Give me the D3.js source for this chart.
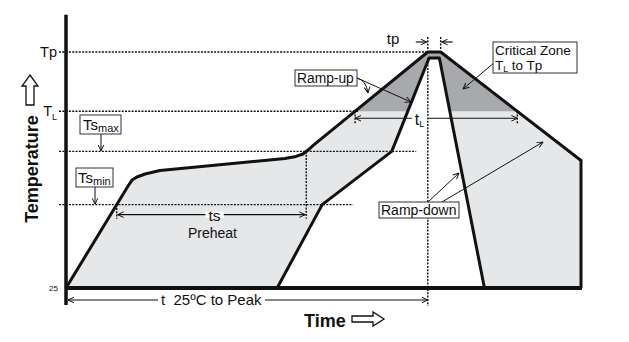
<!DOCTYPE html>
<html><head><meta charset="utf-8">
<script src="https://cdn.jsdelivr.net/npm/d3@7"></script>
<style>
body{margin:0;background:#fff}
svg{display:block}
text{font-family:"Liberation Sans",Arial,sans-serif;fill:#111}
</style>
</head><body>
<svg id="c" width="629" height="342"></svg>
<script>
// ---- data (schematic reflow profile: time in s, temperature in °C units) ----
const levelNames = ["Tp", "TL", "Tsmax", "Tsmin", "25"];
const levelTemps = [260, 201, 161, 108, 25];
const levelGuideEnd = [281, 227, 272, 223, null];   // time where each dotted guide ends
const axisLabels = ["Tp", "TL", "25"];
const axisLabelTemps = [260, 201, 25];

const outerTime = [0, 48.2, 51.3, 55.1, 61.4, 73, 170, 178.6, 184, 188, 192, 281, 291, 400, 400];
const outerTemp = [25, 126.6, 132.5, 135.5, 138.5, 142, 154, 156, 158.4, 162.4, 167, 260, 260, 152, 25];
const innerTime = [164, 199, 253, 282, 290, 325];
const innerTemp = [25, 108, 161, 254, 254, 25];

const timeDomain = [0, 400];
const tempDomain = [25, 260];
const axisExtent = [8, 297];      // temperature span of drawn vertical axis line

// ---- scales ----
const x = d3.scaleLinear().domain(timeDomain).range([66, 581]);
const y = d3.scaleLinear().domain(tempDomain).range([288, 52]);

const svg = d3.select("#c");
const defs = svg.append("defs");
function marker(id) {
  defs.append("marker").attr("id", id).attr("viewBox", "0 0 10 10")
    .attr("refX", 9.5).attr("refY", 5).attr("markerWidth", 7).attr("markerHeight", 7)
    .attr("orient", "auto-start-reverse").attr("markerUnits", "userSpaceOnUse")
    .append("path").attr("d", "M1,1 L9.5,5 L1,9").attr("fill", "none")
    .attr("stroke", "#111").attr("stroke-width", 1.4);
}
marker("ah");

const outer = outerTime.map((t, i) => [t, outerTemp[i]]);
const inner = innerTime.map((t, i) => [t, innerTemp[i]]);
const line = d3.line().x(d => x(d[0])).y(d => y(d[1]));

// crossing of outer profile with a temperature level
function crossRise(T) {
  for (let i = 0; i < outer.length - 1; i++) {
    const a = outer[i], b = outer[i + 1];
    if (a[1] <= T && b[1] >= T && b[1] > a[1]) return a[0] + (T - a[1]) / (b[1] - a[1]) * (b[0] - a[0]);
  }
}
function crossFall(T) {
  for (let i = outer.length - 2; i >= 0; i--) {
    const a = outer[i], b = outer[i + 1];
    if (a[1] >= T && b[1] <= T && a[1] > b[1]) return a[0] + (T - a[1]) / (b[1] - a[1]) * (b[0] - a[0]);
  }
}

// ---- filled region between profiles ----
const region = outer.concat(inner.slice().reverse());
svg.append("path").attr("d", line(region) + "Z").attr("fill", "#e6e7e8");
defs.append("clipPath").attr("id", "crit").append("rect")
  .attr("x", 0).attr("y", 0).attr("width", 629).attr("height", y(levelTemps[1]));
svg.append("path").attr("d", line(region) + "Z").attr("fill", "#a7a9ac").attr("clip-path", "url(#crit)");

// ---- dotted guides ----
const dot = sel => sel.attr("stroke", "#111").attr("stroke-width", 1.4).attr("stroke-dasharray", "2,1.3").attr("fill", "none");
levelTemps.forEach((T, i) => {
  if (levelGuideEnd[i] == null) return;
  svg.append("line").attr("x1", x(0) - 7).attr("x2", x(levelGuideEnd[i]))
    .attr("y1", y(T)).attr("y2", y(T)).call(dot);
});
const tPeak = outerTime[11], tPeakEnd = outerTime[12];
const tTsmin = crossRise(levelTemps[3]);
const tTsmax = crossRise(levelTemps[2]);
const tL1 = crossRise(levelTemps[1]), tL2 = crossFall(levelTemps[1]);

const yTs = y(levelTemps[3]) + 10;   // ts arrow level
const yTL = y(levelTemps[1]) + 7;    // tL arrow level
const yT25 = y(25) + 12;             // t 25°C arrow level

svg.append("line").attr("x1", x(tPeak)).attr("x2", x(tPeak)).attr("y1", y(levelTemps[0]) + 6).attr("y2", yT25 + 6).call(dot);
svg.append("line").attr("x1", x(tTsmax)).attr("x2", x(tTsmax)).attr("y1", y(levelTemps[2])).attr("y2", yTs + 4).call(dot);
svg.append("line").attr("x1", x(tTsmin)).attr("x2", x(tTsmin)).attr("y1", y(levelTemps[3])).attr("y2", yTs + 4).call(dot);
[tL1, tL2].forEach(t => svg.append("line").attr("x1", x(t)).attr("x2", x(t))
  .attr("y1", y(levelTemps[1])).attr("y2", yTL + 6).call(dot));
[tPeak, tPeakEnd].forEach(t => svg.append("line").attr("x1", x(t)).attr("x2", x(t))
  .attr("y1", y(levelTemps[0]) - 15).attr("y2", y(levelTemps[0]) - 2).call(dot));

// ---- profiles ----
svg.append("path").attr("d", line(outer)).attr("fill", "none").attr("stroke", "#111")
  .attr("stroke-width", 3).attr("stroke-linejoin", "round");
svg.append("path").attr("d", line(inner)).attr("fill", "none").attr("stroke", "#111")
  .attr("stroke-width", 3).attr("stroke-linejoin", "round");
// baseline
svg.append("line").attr("x1", x(0)).attr("x2", x(timeDomain[1]) + 1).attr("y1", y(25)).attr("y2", y(25))
  .attr("stroke", "#111").attr("stroke-width", 4);

// ---- y axis ----
const yAxis = d3.axisLeft(y).tickValues(axisLabelTemps).tickSize(0).tickPadding(8)
  .tickFormat((d, i) => axisLabels[i]);
const gy = svg.append("g").attr("transform", `translate(${x(0) - 1},0)`).call(yAxis);
gy.select(".domain").remove();
gy.selectAll("text").attr("font-size", 14.5).attr("fill", "#111")
  .attr("font-family", "Liberation Sans, Arial, sans-serif");
gy.selectAll(".tick").filter(d => d === 25).select("text").attr("font-size", 8).attr("dx", 1);
gy.selectAll(".tick").filter(d => d === levelTemps[1]).select("text").each(function () {
  const t = d3.select(this); t.text("T");
  t.append("tspan").attr("font-size", 9).attr("dy", 4).text("L");
});
svg.append("line").attr("x1", x(0)).attr("x2", x(0)).attr("y1", y(axisExtent[1])).attr("y2", y(axisExtent[0]))
  .attr("stroke", "#111").attr("stroke-width", 3.5);

// ---- dimension arrows with labels ----
function dimArrow(x1, x2, yy, build) {
  svg.append("line").attr("x1", x1).attr("x2", x2).attr("y1", yy).attr("y2", yy)
    .attr("stroke", "#111").attr("stroke-width", 1.2)
    .attr("marker-start", "url(#ah)").attr("marker-end", "url(#ah)");
  if (build) {
    const g = svg.append("g");
    const bg = g.append("rect").attr("fill", "#fff");
    const txt = build(g);
    const bb = txt.node().getBBox();
    bg.attr("x", bb.x - 3).attr("y", yy - 3).attr("width", bb.width + 6).attr("height", 6);
  }
}
dimArrow(x(tTsmin) + 1, x(tTsmax) - 1, yTs, g =>
  g.append("text").attr("x", (x(tTsmin) + x(tTsmax)) / 2 + 3).attr("y", yTs + 6)
    .attr("text-anchor", "middle").attr("font-size", 15.5).text("ts"));
svg.append("text").attr("x", (x(tTsmin) + x(tTsmax)) / 2 + 1).attr("y", yTs + 23)
  .attr("text-anchor", "middle").attr("font-size", 14).text("Preheat");

dimArrow(x(tL1), x(tL2), yTL, g => {
  const t = g.append("text").attr("x", x(tPeak) - 13).attr("y", yTL + 7).attr("font-size", 16).text("t");
  t.append("tspan").attr("font-size", 9).attr("dy", 2).text("L");
  return t;
});

dimArrow(x(0) + 2, x(tPeak), yT25, g =>
  g.append("text").attr("x", 161).attr("y", yT25 + 5).attr("font-size", 15)
    .attr("xml:space", "preserve").text("t  25ºC to Peak"));
// tp arrows
svg.append("line").attr("x1", x(tPeak) - 12).attr("x2", x(tPeak) - 1).attr("y1", y(levelTemps[0]) - 10)
  .attr("y2", y(levelTemps[0]) - 10).attr("stroke", "#111").attr("stroke-width", 1.2).attr("marker-end", "url(#ah)");
svg.append("line").attr("x1", x(tPeakEnd) + 12).attr("x2", x(tPeakEnd) + 1).attr("y1", y(levelTemps[0]) - 10)
  .attr("y2", y(levelTemps[0]) - 10).attr("stroke", "#111").attr("stroke-width", 1.2).attr("marker-end", "url(#ah)");
svg.append("text").attr("x", x(tPeak) - 41).attr("y", y(levelTemps[0]) - 8).attr("font-size", 15).text("tp");

// ---- callout boxes ----
function box(bx, by, w, h, build) {
  const g = svg.append("g");
  g.append("rect").attr("x", bx).attr("y", by).attr("width", w).attr("height", h)
    .attr("fill", "#fff").attr("stroke", "#333").attr("stroke-width", 1);
  build(g);
}
function arrow(x1, y1, x2, y2) {
  svg.append("line").attr("x1", x1).attr("y1", y1).attr("x2", x2).attr("y2", y2)
    .attr("stroke", "#111").attr("stroke-width", 1).attr("marker-end", "url(#ah)");
}

// Tsmax
arrow(101, 133, 101, y(levelTemps[2]) - 0.5);
box(80, 115, 41, 19, g => {
  const t = g.append("text").attr("x", 83).attr("y", 130).attr("font-size", 15).text("Ts");
  t.append("tspan").attr("font-size", 11).attr("dy", 2).text("max");
});
// Tsmin
arrow(95, 187, 95, y(levelTemps[3]) - 0.5);
box(76, 168, 37, 19, g => {
  const t = g.append("text").attr("x", 78).attr("y", 183).attr("font-size", 15).text("Ts");
  t.append("tspan").attr("font-size", 11).attr("dy", 2).text("min");
});

// Ramp-up
svg.append("path").attr("d", "M357,78 Q366,80 368,93").attr("fill", "none").attr("stroke", "#111")
  .attr("stroke-width", 1).attr("marker-end", "url(#ah)");
arrow(357, 78, 411, 102);
box(295, 70, 62, 16, g => g.append("text").attr("x", 297).attr("y", 83).attr("font-size", 13.8).text("Ramp-up"));

// Critical zone
arrow(495, 62, 463, 89);
box(493, 42, 84, 31, g => {
  g.append("text").attr("x", 495).attr("y", 55).attr("font-size", 13.5).text("Critical Zone");
  const t = g.append("text").attr("x", 495).attr("y", 70).attr("font-size", 13.5).text("T");
  t.append("tspan").attr("font-size", 8.5).attr("dy", 1.5).text("L");
  t.append("tspan").attr("dy", -1.5).text(" to Tp");
});

// Ramp-down
arrow(428, 202, 459, 173);
arrow(442, 202, 543, 142);
box(379, 202, 80, 16, g => g.append("text").attr("x", 381).attr("y", 215).attr("font-size", 14).text("Ramp-down"));

// ---- axis titles ----
svg.append("text").attr("transform", "translate(38,169) rotate(-90)").attr("text-anchor", "middle")
  .attr("font-size", 18).attr("font-weight", "bold").text("Temperature");
svg.append("path").attr("d", "M30,75 L38,86 L34,86 L34,105 L26,105 L26,86 L22,86 Z")
  .attr("fill", "#fff").attr("stroke", "#111").attr("stroke-width", 1.3);
svg.append("text").attr("x", 304).attr("y", 327).attr("font-size", 18).attr("font-weight", "bold").text("Time");
svg.append("path").attr("d", "M352,316 L373,316 L373,312 L384,319 L373,326 L373,322 L352,322 Z")
  .attr("fill", "#fff").attr("stroke", "#111").attr("stroke-width", 1.3);
</script>
</body></html>
